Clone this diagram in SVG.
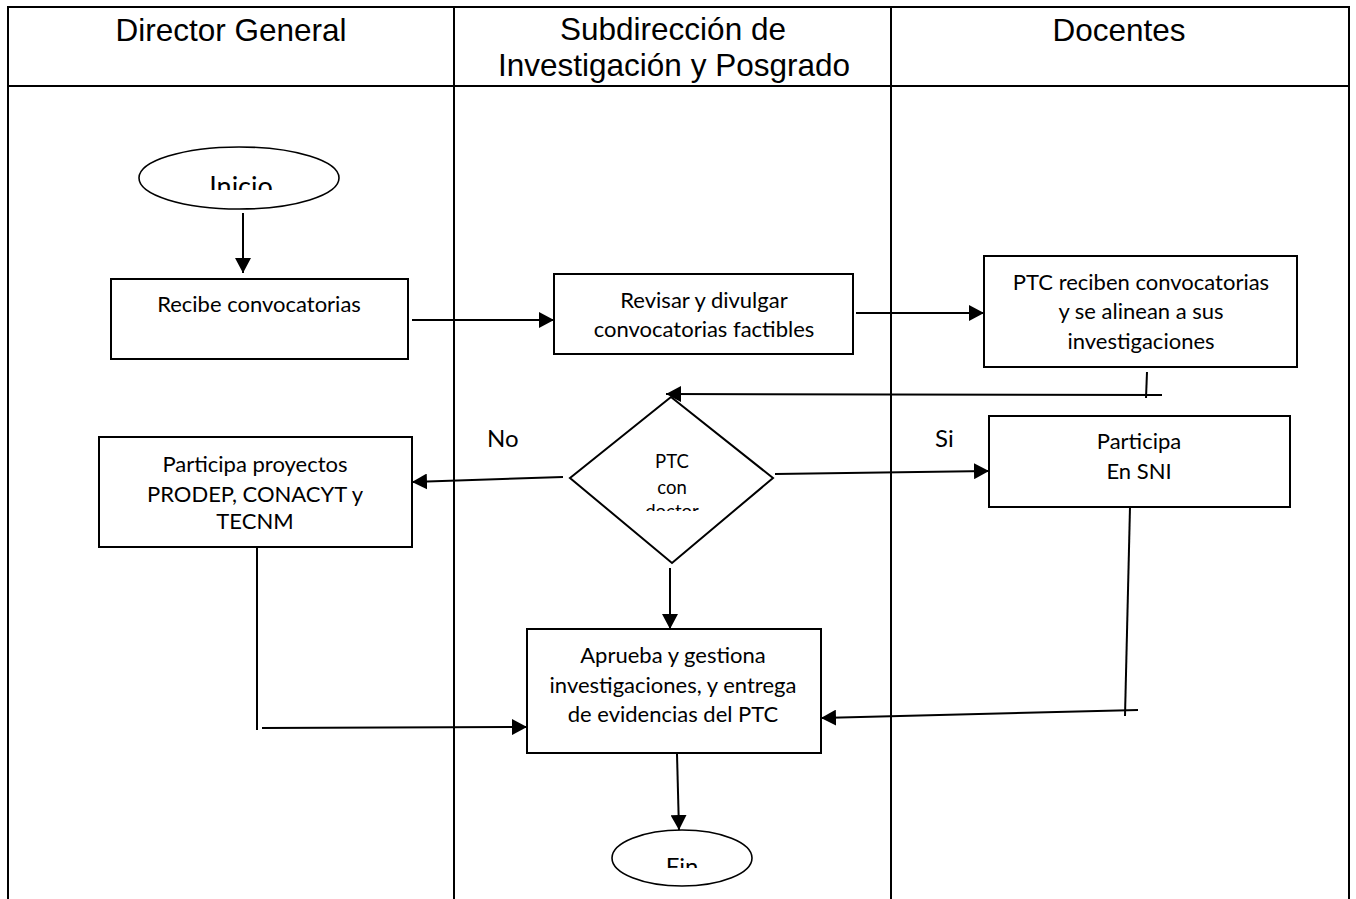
<svg xmlns="http://www.w3.org/2000/svg" width="1356" height="899" viewBox="0 0 1356 899">
<style>
.lane{fill:none;stroke:#000;stroke-width:2}
.hdr{font-family:"Liberation Sans",Arial,sans-serif;font-size:31.5px;fill:#000;text-anchor:middle}
.box{fill:#fff;stroke:#000;stroke-width:2}
.term{fill:#fff;stroke:#000;stroke-width:1.6}
.t{font-family:Lato,"Open Sans",sans-serif;font-size:22px;fill:#000;text-anchor:middle}
.d{font-family:Lato,"Open Sans",sans-serif;font-size:18.5px;fill:#000;text-anchor:middle}
.lbl{font-family:Lato,"Open Sans",sans-serif;font-size:24px;fill:#000}
.c{fill:none;stroke:#000;stroke-width:2}
</style>
<defs>
<marker id="arr" markerUnits="userSpaceOnUse" markerWidth="16" markerHeight="16" refX="15" refY="8" orient="auto">
<path d="M0,0 L15,8 L0,16 Z" fill="#000"/>
</marker>
<clipPath id="clipInicio"><rect x="130" y="140" width="220" height="50"/></clipPath>
<clipPath id="clipFin"><rect x="600" y="825" width="160" height="43"/></clipPath>
<clipPath id="clipDia"><rect x="600" y="440" width="150" height="71"/></clipPath>
</defs>
<rect width="1356" height="899" fill="#fff"/>
<g id="lanes">
<path class="lane" d="M8,899 V7 H1349 V899 M454,7 V899 M891,7 V899 M8,86 H1349"/>
<text class="hdr" x="231" y="41">Director General</text>
<text class="hdr" x="673" y="40">Subdirección de</text>
<text class="hdr" x="674" y="76">Investigación y Posgrado</text>
<text class="hdr" x="1119" y="41">Docentes</text>
</g>
<g id="connectors">
<line class="c" x1="243" y1="213" x2="243" y2="273" marker-end="url(#arr)"/>
<line class="c" x1="412" y1="320" x2="554" y2="320" marker-end="url(#arr)"/>
<line class="c" x1="856" y1="313" x2="984" y2="313" marker-end="url(#arr)"/>
<line class="c" x1="1147" y1="372" x2="1146" y2="398"/>
<line class="c" x1="1162" y1="395" x2="666" y2="394" marker-end="url(#arr)"/>
<line class="c" x1="563" y1="477" x2="412" y2="482" marker-end="url(#arr)"/>
<line class="c" x1="775" y1="474" x2="989" y2="471" marker-end="url(#arr)"/>
<line class="c" x1="670" y1="568" x2="670" y2="629" marker-end="url(#arr)"/>
<line class="c" x1="257" y1="547" x2="257" y2="730"/>
<line class="c" x1="262" y1="728" x2="527" y2="727" marker-end="url(#arr)"/>
<line class="c" x1="1130" y1="507" x2="1125" y2="716"/>
<line class="c" x1="1138" y1="710" x2="821" y2="718" marker-end="url(#arr)"/>
<line class="c" x1="677" y1="754" x2="679" y2="830" marker-end="url(#arr)"/>
<text class="lbl" x="487" y="447">No</text>
<text class="lbl" x="935" y="447">Si</text>
</g>
<g id="inicio">
<ellipse class="term" cx="239" cy="178" rx="100" ry="31"/>
<text class="t" x="241" y="196" style="font-size:27px" clip-path="url(#clipInicio)">Inicio</text>
</g>
<g id="recibe">
<rect class="box" x="111" y="279" width="297" height="80"/>
<text class="t" x="259" y="312">Recibe convocatorias</text>
</g>
<g id="revisar">
<rect class="box" x="554" y="274" width="299" height="80"/>
<text class="t" x="704" y="308">Revisar y divulgar</text>
<text class="t" x="704" y="337">convocatorias factibles</text>
</g>
<g id="ptc-reciben">
<rect class="box" x="984" y="256" width="313" height="111"/>
<text class="t" x="1141" y="290">PTC reciben convocatorias</text>
<text class="t" x="1141" y="319">y se alinean a sus</text>
<text class="t" x="1141" y="349">investigaciones</text>
</g>
<g id="decision">
<polygon class="box" points="671,397 773,478 672,563 570,478"/>
<g clip-path="url(#clipDia)">
<text class="d" x="672" y="468">PTC</text>
<text class="d" x="672" y="494">con</text>
<text class="d" x="672" y="518">doctor</text>
</g>
</g>
<g id="participa-proyectos">
<rect class="box" x="99" y="437" width="313" height="110"/>
<text class="t" x="255" y="472">Participa proyectos</text>
<text class="t" x="255" y="502">PRODEP, CONACYT y</text>
<text class="t" x="255" y="529">TECNM</text>
</g>
<g id="participa-sni">
<rect class="box" x="989" y="416" width="301" height="91"/>
<text class="t" x="1139" y="449">Participa</text>
<text class="t" x="1139" y="479">En SNI</text>
</g>
<g id="aprueba">
<rect class="box" x="527" y="629" width="294" height="124"/>
<text class="t" x="673" y="663">Aprueba y gestiona</text>
<text class="t" x="673" y="693">investigaciones, y entrega</text>
<text class="t" x="673" y="722">de evidencias del PTC</text>
</g>
<g id="fin">
<ellipse class="term" cx="682" cy="858" rx="70" ry="28"/>
<text class="t" x="682" y="875" style="font-size:24px" clip-path="url(#clipFin)">Fin</text>
</g>
</svg>
